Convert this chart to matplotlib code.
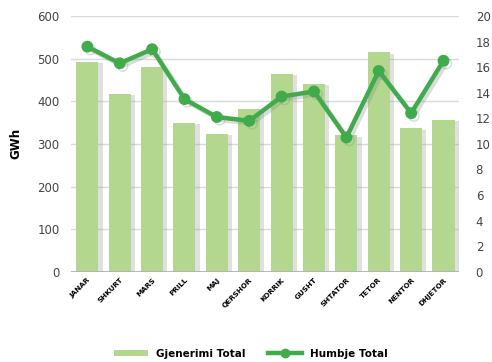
import numpy as np
import matplotlib
matplotlib.use("Agg")
import matplotlib.pyplot as plt
from matplotlib import patheffects as pe
from matplotlib.patches import Patch
from matplotlib.lines import Line2D

# data
months = ['JANAR', 'SHKURT', 'MARS', 'PRILL', 'MAJ', 'QERSHOR',
          'KORRIK', 'GUSHT', 'SHTATOR', 'TETOR', 'NENTOR', 'DHJETOR']
gjenerimi = [492, 417, 480, 349, 323, 382, 464, 441, 320, 515, 337, 356]
humbje = [17.6, 16.3, 17.4, 13.5, 12.1, 11.8, 13.7, 14.1, 10.5, 15.7, 12.4, 16.5]

bar_color = '#b3d78f'
line_color = '#3fab4a'
tick_color = '#444444'

fig = plt.figure(figsize=(4.92, 3.62), dpi=100)
ax = fig.add_axes([0.144, 0.249, 0.789, 0.707])
ax2 = ax.twinx()

x = np.arange(len(months))

# bars with a soft shadow to the right
bars = ax.bar(x, gjenerimi, width=0.68, color=bar_color, zorder=3)
for b in bars:
    b.set_path_effects([pe.SimplePatchShadow(offset=(3, -1), shadow_rgbFace='#999999', alpha=0.3),
                        pe.Normal()])

ax.set_ylim(0, 600)
ax.set_yticks(range(0, 601, 100))
ax.set_xlim(-0.51, len(months) - 0.52)
ax.grid(axis='y', color='#d9d9d9', linewidth=1, zorder=0)
ax.set_axisbelow(True)
for s in ax.spines.values():
    s.set_visible(False)
ax.axhline(0, color='#b0b0b0', linewidth=2, zorder=4)
ax.tick_params(axis='both', length=0, labelsize=8.5, colors=tick_color)
ax.tick_params(axis='y', pad=8)
ax.set_xticks(x)
ax.set_xticklabels(months, rotation=45, ha='right', rotation_mode='anchor',
                   fontsize=5.2, fontweight='bold', color='black')
ax.set_ylabel('GWh', fontsize=8.5, fontweight='bold', labelpad=11)

# line on the right axis
line, = ax2.plot(x, humbje, color=line_color, linewidth=3.2, marker='o',
                 markersize=7.5, zorder=5)
line.set_path_effects([pe.SimpleLineShadow(offset=(2, -2), shadow_color='#888888', alpha=0.3),
                       pe.Normal()])
ax2.set_ylim(0, 20)
ax2.set_yticks(range(0, 21, 2))
for s in ax2.spines.values():
    s.set_visible(False)
ax2.tick_params(axis='y', length=0, labelsize=8.5, colors=tick_color, pad=12)

handles = [Patch(facecolor=bar_color),
           Line2D([], [], color=line_color, linewidth=3.2, marker='o', markersize=6)]
fig.legend(handles, ['Gjenerimi Total', 'Humbje Total'], loc='lower center',
           bbox_to_anchor=(0.51, -0.017), ncol=2, frameon=False,
           prop={'weight': 'bold', 'size': 7.5}, handlelength=3.2,
           handleheight=0.6, columnspacing=2.2)

fig.savefig('out.png', dpi=100)
